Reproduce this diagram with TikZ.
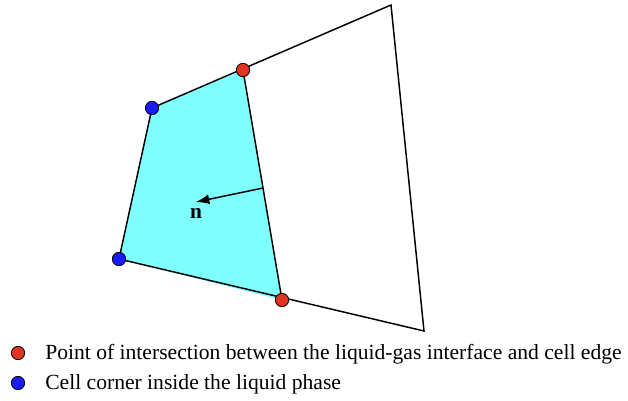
\documentclass[tikz,border=0pt]{standalone}
\usepackage{fontspec}
\setmainfont{Liberation Serif}
\usetikzlibrary{arrows.meta}
\definecolor{liq}{HTML}{80FFFF}
\definecolor{rdot}{HTML}{E2331F}
\definecolor{bdot}{HTML}{1A1AFF}
\tikzset{
  edge/.style={draw=black, line width=1.1pt},
  dotr/.style={circle, draw=black, line width=0.6pt, fill=rdot, minimum size=10pt, inner sep=0pt},
  dotb/.style={circle, draw=black, line width=0.6pt, fill=bdot, minimum size=10pt, inner sep=0pt},
  legtext/.style={anchor=west, inner sep=0pt, font=\fontsize{16.2}{18}\selectfont},
}
\begin{document}
\begin{tikzpicture}[x=0.75pt, y=-0.75pt]
\useasboundingbox (0,0) rectangle (628,400);
\coordinate (A) at (152,108);
\coordinate (R1) at (243,70);
\coordinate (T) at (391,5);
\coordinate (B) at (424,331);
\coordinate (R2) at (282,300);
\coordinate (C) at (119,259);
\fill[liq] (A) -- (R1) -- (R2) -- (C) -- cycle;
\draw[edge, line join=miter] (A) -- (T) -- (B) -- (C) -- cycle;
\draw[edge] (R1) -- (R2);
\coordinate (ns) at (263,188);
\coordinate (ne) at (196,202);
\draw[line width=1.1pt, -{Latex[length=10pt,width=7.5pt]}] (ns) -- (ne);
\node[font=\bfseries\fontsize{16}{18}\selectfont, inner sep=0pt] (n) at (196,213) {n};
\node[dotb] (dA) at (A) {};
\node[dotr] (dR1) at (R1) {};
\node[dotr] (dR2) at (R2) {};
\node[dotb] (dC) at (C) {};
\node[dotr] (l1) at (18,353) {};
\node[dotb] (l2) at (18,383) {};
\node[legtext] (t1) at (45,354) {Point of intersection between the liquid-gas interface and cell edge};
\node[legtext] (t2) at (45,384) {Cell corner inside the liquid phase};
\end{tikzpicture}
\end{document}
